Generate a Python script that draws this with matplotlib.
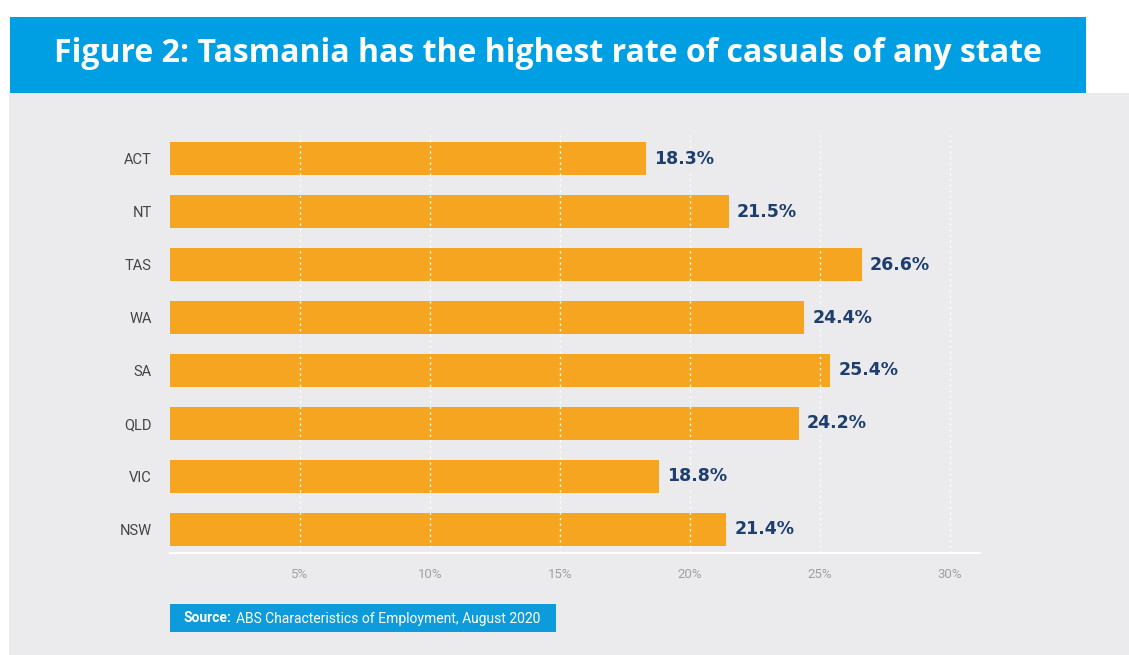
import matplotlib
matplotlib.use("Agg")
import matplotlib.pyplot as plt
from matplotlib.patches import Rectangle

states = ["ACT", "NT", "TAS", "WA", "SA", "QLD", "VIC", "NSW"]
rates = [18.3, 21.5, 26.6, 24.4, 25.4, 24.2, 18.8, 21.4]
tick_vals = [5, 10, 15, 20, 25, 30]
tick_labels = ["5%", "10%", "15%", "20%", "25%", "30%"]
title = "Figure 2: Tasmania has the highest rate of casuals of any state"
source_bold = "Source:"
source_rest = "ABS Characteristics of Employment, August 2020"

W, H = 1129, 655
fig = plt.figure(figsize=(W / 100, H / 100), dpi=100, facecolor="white")

def fx(px):
    return px / W

def fy(py):
    return 1 - py / H

# grey panel
fig.add_artist(Rectangle((fx(9), 0), 1 - fx(9), fy(93), transform=fig.transFigure,
                         facecolor="#EBEBED", edgecolor="none", zorder=0))
# title banner
fig.add_artist(Rectangle((fx(10), fy(93)), fx(1086) - fx(10), fy(17) - fy(93),
                         transform=fig.transFigure, facecolor="#009FE3",
                         edgecolor="none", zorder=1))
fig.text(fx(548), fy(54), title, color="white", fontsize=23, fontweight="bold",
         family="Open Sans", ha="center", va="center", zorder=2)

ax = fig.add_axes([fx(170), fy(553), fx(980) - fx(170), fy(135) - fy(553)])
ax.set_facecolor("none")
n = len(states)
ypos = [n - 1 - i for i in range(n)]
ax.barh(ypos, rates, height=0.62, color="#F6A521", zorder=2)
for y, v in zip(ypos, rates):
    ax.text(v + 0.3, y, f"{v:.1f}%", va="center", ha="left", color="#1D3E6E",
            fontsize=12.5, fontweight="bold", family="DejaVu Sans", zorder=5,
            bbox=dict(boxstyle="square,pad=0.1", facecolor="#EBEBED", edgecolor="none"))

ax.set_xlim(0, 31.15)
ax.set_ylim(-0.45, n - 1 + 0.45)
ax.set_yticks(ypos)
ax.set_yticklabels(states, fontsize=10.5, color="#444444", family="Roboto")
ax.set_xticks(tick_vals)
ax.set_xticklabels(tick_labels, fontsize=9.5, color="#A0A0A0", family="Roboto")
ax.tick_params(axis="both", length=0)
ax.tick_params(axis="y", pad=13)
ax.tick_params(axis="x", pad=11)
for x in tick_vals:
    ax.axvline(x, color="white", linestyle=(0, (1.5, 2.5)), linewidth=1.0, zorder=3)
for s in ["top", "right", "left"]:
    ax.spines[s].set_visible(False)
ax.spines["bottom"].set_color("white")
ax.spines["bottom"].set_linewidth(1.5)

# source box
fig.add_artist(Rectangle((fx(170), fy(632)), fx(556) - fx(170), fy(604) - fy(632),
                         transform=fig.transFigure, facecolor="#0E9BDB",
                         edgecolor="none", zorder=1))
t1 = fig.text(fx(184), fy(622.5), source_bold, color="white", fontsize=10,
              fontweight="bold", family="Roboto", ha="left", va="baseline", zorder=2)
fig.canvas.draw()
bb = t1.get_window_extent()
fig.text((bb.x1 + 4) / W, fy(622.5), source_rest, color="white", fontsize=10,
         family="Roboto", ha="left", va="baseline", zorder=2)

fig.savefig("out.png", dpi=100, facecolor="white")
